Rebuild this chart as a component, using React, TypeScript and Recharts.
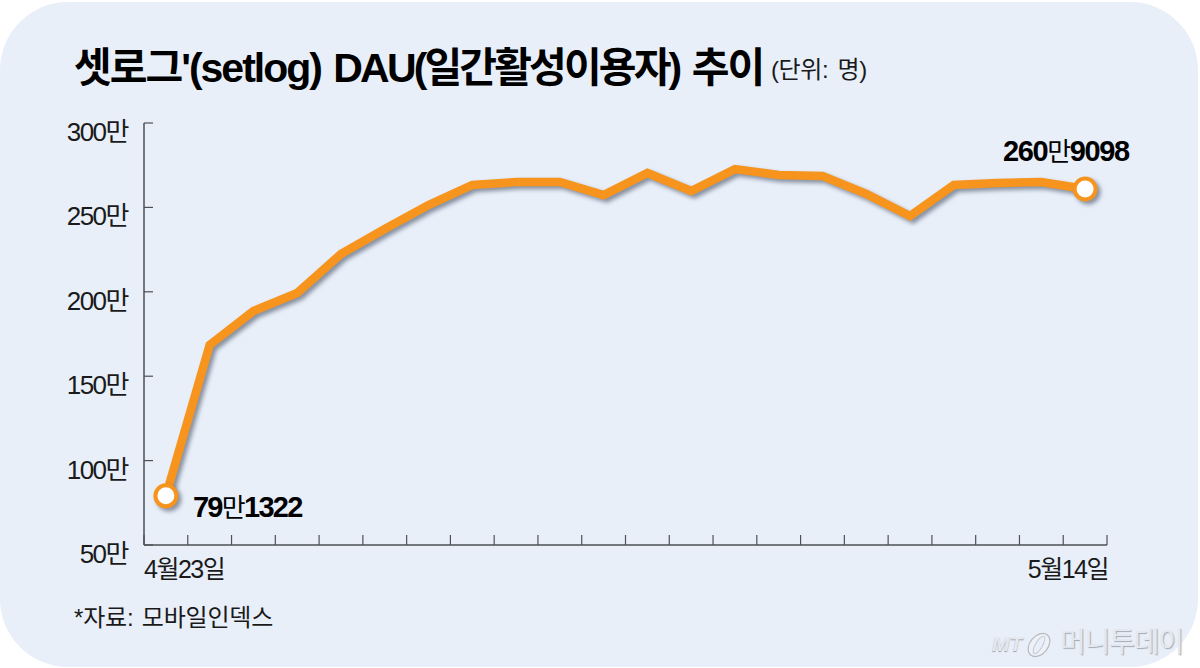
import React from 'react';
import { LineChart, Line, XAxis, YAxis } from 'recharts';

// DAU per day, in units of 만 (10,000)
const days = [
  '4월23일', '4월24일', '4월25일', '4월26일', '4월27일', '4월28일', '4월29일', '4월30일',
  '5월1일', '5월2일', '5월3일', '5월4일', '5월5일', '5월6일', '5월7일', '5월8일',
  '5월9일', '5월10일', '5월11일', '5월12일', '5월13일', '5월14일',
];
const dau = [
  79.1322, 168.5, 188.6, 199.3, 222.4, 237.2, 251.4, 263.3, 265, 265.1, 257.3,
  270.4, 259.7, 272.7, 269.2, 268.6, 258, 244.9, 263.3, 264.5, 265, 260.9098,
];
const yTicks = [50, 100, 150, 200, 250, 300];
const xTicks = [0, 1, 2, 3, 4, 5, 6, 7, 8, 9, 10, 11, 12, 13, 14, 15, 16, 17, 18, 19, 20, 21, 22];

// each day sits in the middle of its tick interval
const data = days.map((day, i) => ({ pos: i + 0.5, day, dau: dau[i] }));

const FONT = '"Liberation Sans", "Noto Sans CJK KR", sans-serif';
const AXIS = '#4d5156';
const ORANGE = '#f7941d';
const PANEL = '#e8eff9';
const SHADOW = 'drop-shadow(3px 3px 2px rgba(70,80,100,0.6))';

const YTick = ({ x, y, payload }: any) => (
  <g>
    <line x1={x} x2={x + 9} y1={y} y2={y} stroke={AXIS} strokeWidth={1.2} />
    <text x={x - 16} y={y + 18} textAnchor="end" fontSize={26} fontFamily={FONT} fill="#1a1a1a" letterSpacing={-1.5}>
      {payload.value}만
    </text>
  </g>
);

const XTick = ({ x, y, payload }: any) => (
  <g>
    <line x1={x} x2={x} y1={y} y2={y - 10} stroke={AXIS} strokeWidth={1.2} />
    {payload.value === 0 && (
      <text x={x} y={y + 33} fontSize={25} fontFamily={FONT} fill="#1a1a1a" letterSpacing={-1.5}>
        {days[0]}
      </text>
    )}
    {payload.value === 22 && (
      <text x={x + 1} y={y + 33} textAnchor="end" fontSize={25} fontFamily={FONT} fill="#1a1a1a" letterSpacing={-1.5}>
        {days[days.length - 1]}
      </text>
    )}
  </g>
);

const EndDot = ({ cx, cy, index }: any) => {
  if (index !== 0 && index !== days.length - 1) return <g key={index} />;
  return <circle key={index} cx={cx} cy={cy} r={10.5} fill="#fff" stroke={ORANGE} strokeWidth={4} style={{ filter: SHADOW }} />;
};

const EndLabel = ({ x, y, index }: any) => {
  if (index === 0) {
    return (
      <text x={x + 27} y={y + 21} fontFamily={FONT} fontSize={29} fontWeight={700} fill="#000" letterSpacing={-1.7}>
        79<tspan fontWeight={400} fontSize={26}>만</tspan>1322
      </text>
    );
  }
  if (index === days.length - 1) {
    return (
      <text x={x - 82} y={y - 28} fontFamily={FONT} fontSize={29} fontWeight={700} fill="#000" letterSpacing={-1.4}>
        260<tspan fontWeight={400} fontSize={26}>만</tspan>9098
      </text>
    );
  }
  return null;
};

const abs = (left: number, top: number): React.CSSProperties => ({
  position: 'absolute',
  left,
  top,
  fontFamily: FONT,
  whiteSpace: 'nowrap',
  lineHeight: 1,
});

export default function App() {
  return (
    <div style={{ position: 'absolute', left: 0, top: 0, width: 1200, height: 668, background: '#fff', overflow: 'hidden' }}>
      <div style={{ position: 'absolute', left: 0, top: 2, width: 1198, height: 665, background: PANEL, borderRadius: 68 }} />

      <div style={{ ...abs(74, 48), fontSize: 41, fontWeight: 700, color: '#000', letterSpacing: -2, wordSpacing: 3 }}>
        셋로그'(setlog) <span style={{ letterSpacing: -2.85 }}>DAU(일간활성이용자)</span> 추이
      </div>
      <div style={{ ...abs(771, 58), fontSize: 24, color: '#1a1a1a', letterSpacing: -0.4, wordSpacing: 3 }}>(단위: 명)</div>
      <div style={{ ...abs(74, 606), fontSize: 24, color: '#1a1a1a', letterSpacing: -0.2, wordSpacing: 2 }}>*자료: 모바일인덱스</div>

      <div style={{ ...abs(992, 633), fontSize: 21, color: '#e4e8f0', fontStyle: 'italic', fontWeight: 700, textShadow: '0 1px 1px #9aa0aa' }}>MT</div>
      <svg style={{ position: 'absolute', left: 1024, top: 630 }} width={30} height={30}>
        <ellipse cx={15} cy={15} rx={13} ry={9} transform="rotate(-50 15 15)" fill="#eef1f6" stroke="#b4b9c2" strokeWidth={1.2} />
        <ellipse cx={15} cy={15} rx={10} ry={3.5} transform="rotate(-60 15 15)" fill={PANEL} stroke="#c6cad2" strokeWidth={1} />
      </svg>
      <div style={{ ...abs(1060, 629), fontSize: 28, color: '#e4e8f0', letterSpacing: -1.2, textShadow: '1px 1px 1px #a4a9b3' }}>머니투데이</div>

      <div style={{ position: 'absolute', left: 0, top: 0 }}>
        <LineChart width={1200} height={668} data={data} margin={{ top: 123, right: 93, bottom: 0, left: 0 }}>
          <XAxis
            dataKey="pos"
            type="number"
            domain={[0, 22]}
            ticks={xTicks}
            interval={0}
            height={123}
            stroke={AXIS}
            strokeWidth={1.5}
            tickLine={false}
            tickSize={0}
            tickMargin={0}
            tick={XTick}
          />
          <YAxis
            type="number"
            domain={[50, 300]}
            ticks={yTicks}
            interval={0}
            width={144}
            stroke={AXIS}
            strokeWidth={1.5}
            tickLine={false}
            tickSize={0}
            tickMargin={0}
            tick={YTick}
          />
          <Line
            dataKey="dau"
            type="linear"
            stroke={ORANGE}
            strokeWidth={8.5}
            strokeLinejoin="miter"
            dot={EndDot}
            activeDot={false}
            label={EndLabel}
            isAnimationActive={false}
            style={{ filter: SHADOW }}
          />
        </LineChart>
      </div>
    </div>
  );
}
